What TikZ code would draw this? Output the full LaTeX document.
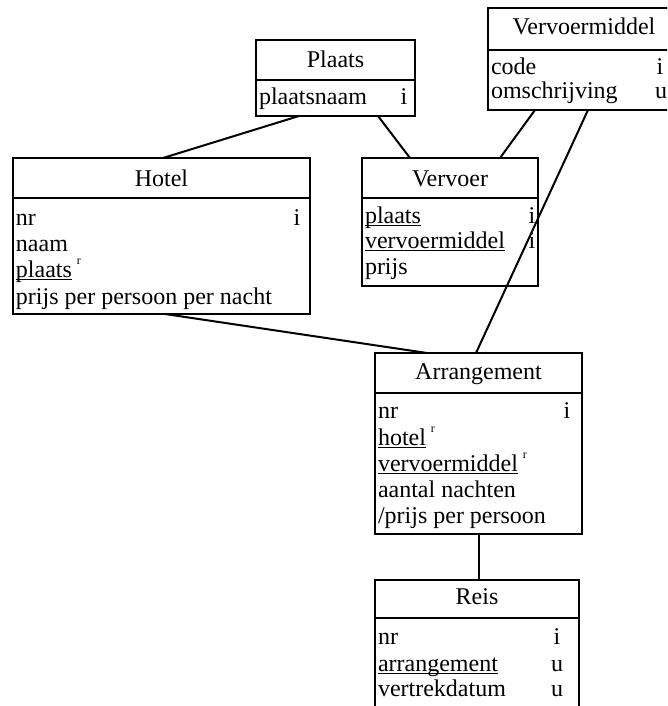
\documentclass[tikz,border=0pt]{standalone}
\usepackage{fontspec}
\setmainfont{Liberation Serif}
\usetikzlibrary{calc}
% key attribute: underline at a fixed depth below the baseline
\newcommand\keyul[1]{\setbox0\hbox{#1}\rlap{\rule[-2.6pt]{\wd0}{1pt}}\box0}
% small raised "r" marking a reference attribute
\newcommand\refmark{\hspace{5pt}\raisebox{13pt}{\fontsize{12}{12}\selectfont r}}
\begin{document}
\begin{tikzpicture}[x=1pt,y=-1pt,
  every node/.style={font=\fontsize{24}{26}\selectfont, inner sep=0pt, outer sep=0pt},
  entity/.style={draw, line width=2pt, anchor=north west},
  sep/.style={line width=2pt},
  title/.style={anchor=base},
  attr/.style={anchor=base west},
  flag/.style={anchor=base},
  link/.style={line width=2pt}]
\clip (0,0) rectangle (667,706);

% ---- entity boxes ----
\node[entity, minimum width=159pt, minimum height=76pt]  (plaats) at (256,40) {};
\node[entity, minimum width=192pt, minimum height=102pt] (vm)     at (488,8) {};
\node[entity, minimum width=297pt, minimum height=156pt] (hotel)  at (13,158) {};
\node[entity, minimum width=176pt, minimum height=128pt] (vervoer) at (362,158) {};
\node[entity, minimum width=207pt, minimum height=181pt] (arr)    at (375,353) {};
\node[entity, minimum width=204pt, minimum height=140pt] (reis)   at (375,580) {};

% ---- header separators ----
\draw[sep] ($(plaats.north west)+(0,40)$) -- ($(plaats.north east)+(0,40)$);
\draw[sep] ($(vm.north west)+(0,42)$) -- ($(vm.north east)+(0,42)$);
\draw[sep] ($(hotel.north west)+(0,40)$) -- ($(hotel.north east)+(0,40)$);
\draw[sep] ($(vervoer.north west)+(0,40)$) -- ($(vervoer.north east)+(0,40)$);
\draw[sep] ($(arr.north west)+(0,40)$) -- ($(arr.north east)+(0,40)$);
\draw[sep] ($(reis.north west)+(0,38)$) -- ($(reis.north east)+(0,38)$);

% ---- Plaats ----
\node[title] (plaats-t) at (335.5,68) {Plaats};
\node[attr] (plaats-a1) at (259,105) {plaatsnaam};
\node[flag] (plaats-f1) at (404,105) {i};

% ---- Vervoermiddel ----
\node[title] (vm-t) at (584,35) {Vervoermiddel};
\node[attr] (vm-a1) at (491,75) {code};
\node[attr] (vm-a2) at (491,99) {omschrijving};
\node[flag] (vm-f1) at (660,75) {i};
\node[flag] (vm-f2) at (661,99) {u};

% ---- Hotel ----
\node[title] (hotel-t) at (161.5,186) {Hotel};
\node[attr] (hotel-a1) at (16,225) {nr};
\node[attr] (hotel-a2) at (16,251) {naam};
\node[attr] (hotel-a3) at (16,277) {\keyul{plaats}\refmark};
\node[attr] (hotel-a4) at (16,304) {prijs per persoon per nacht};
\node[flag] (hotel-f1) at (297,225) {i};

% ---- Vervoer ----
\node[title] (vervoer-t) at (450,186) {Vervoer};
\node[attr] (vervoer-a1) at (365,223) {\keyul{plaats}};
\node[attr] (vervoer-a2) at (365,248) {\keyul{vervoermiddel}};
\node[attr] (vervoer-a3) at (365,274) {prijs};
\node[flag] (vervoer-f1) at (532,223) {i};
\node[flag] (vervoer-f2) at (532,248) {i};

% ---- Arrangement ----
\node[title] (arr-t) at (478.5,379) {Arrangement};
\node[attr] (arr-a1) at (378,418) {nr};
\node[attr] (arr-a2) at (378,445) {\keyul{hotel}\refmark};
\node[attr] (arr-a3) at (378,471) {\keyul{vervoermiddel}\refmark};
\node[attr] (arr-a4) at (378,497) {aantal nachten};
\node[attr] (arr-a5) at (378,523) {/prijs per persoon};
\node[flag] (arr-f1) at (567,418) {i};

% ---- Reis ----
\node[title] (reis-t) at (477,604) {Reis};
\node[attr] (reis-a1) at (378,644) {nr};
\node[attr] (reis-a2) at (378,671) {\keyul{arrangement}};
\node[attr] (reis-a3) at (378,696) {vertrekdatum};
\node[flag] (reis-f1) at (557,644) {i};
\node[flag] (reis-f2) at (557,671) {u};
\node[flag] (reis-f3) at (557,696) {u};

% ---- relationships ----
\draw[link] ($(plaats.south west)+(43,0)$) -- ($(hotel.north west)+(150,0)$);
\draw[link] ($(plaats.south west)+(122,0)$) -- ($(vervoer.north west)+(48,0)$);
\draw[link] ($(vm.south west)+(47,0)$) -- ($(vervoer.north west)+(138,0)$);
\draw[link] ($(vm.south west)+(100,0)$) -- ($(arr.north west)+(101,0)$);
\draw[link] ($(hotel.south west)+(152,0)$) -- ($(arr.north west)+(52,0)$);
\draw[link] ($(arr.south west)+(104,0)$) -- ($(reis.north west)+(104,0)$);
\end{tikzpicture}
\end{document}
